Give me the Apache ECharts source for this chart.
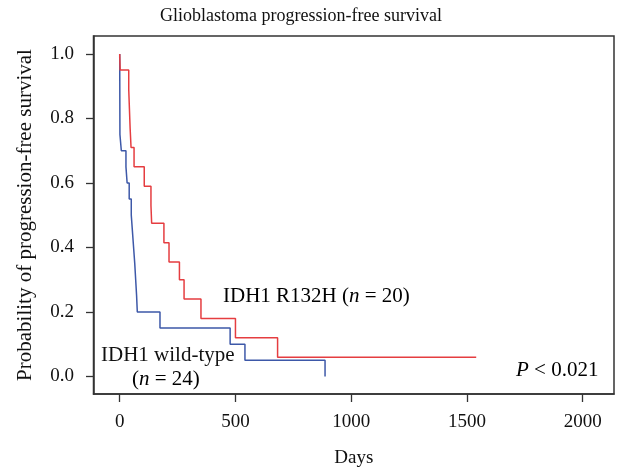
<!DOCTYPE html>
<html>
<head>
    <meta charset="utf-8">
    <title>Glioblastoma progression-free survival</title>
    <script src="https://cdn.jsdelivr.net/npm/echarts@6/dist/echarts.min.js"></script>
    <style>
        html, body { margin: 0; padding: 0; background: #fff; }
        #chart { width: 618px; height: 468px; }
    </style>
</head>
<body>
    <div id="chart"></div>
    <script>
        // 生存曲线数据 (days, survival probability)
        var mutantDays = [0, 2, 39, 42, 45, 49, 62, 106, 135, 138, 191, 213, 258, 278, 351, 500, 682, 1540];
        var mutantProb = [1.0, 0.95, 0.89, 0.83, 0.77, 0.71, 0.65, 0.59, 0.53, 0.475, 0.415, 0.355, 0.3, 0.24, 0.18, 0.12, 0.06, 0.06];
        var wildDays = [0, 1, 7, 27, 32, 41, 50, 55, 60, 65, 69, 73, 76, 174, 477, 541, 887];
        var wildProb = [1.0, 0.75, 0.70, 0.65, 0.60, 0.55, 0.50, 0.45, 0.40, 0.35, 0.30, 0.25, 0.20, 0.15, 0.10, 0.05, 0.0];
        var xTicks = [0, 500, 1000, 1500, 2000];
        var yTicks = [0, 0.2, 0.4, 0.6, 0.8, 1.0];

        var font = 'Liberation Serif';
        var zip = function (xs, ys) {
            return xs.map(function (x, i) { return [x, ys[i]]; });
        };
        var rich = {
            a: { fontFamily: font, fontSize: 21, color: '#111' },
            i: { fontFamily: font, fontSize: 21, fontStyle: 'italic', color: '#111' }
        };
        var frameLine = { color: '#333', width: 1.5 };

        var chart = echarts.init(document.getElementById('chart'));
        var option = {
            animation: false,
            title: {
                text: 'Glioblastoma progression-free survival',
                left: 296, top: 2, textAlign: 'center',
                textStyle: { fontFamily: font, fontSize: 18, fontWeight: 'normal', color: '#111' }
            },
            // 绘图区与 R 的 box 一致
            grid: {
                left: 93.5, right: 4, top: 36, bottom: 74,
                containLabel: false, outerBoundsMode: 'none',
                show: true, borderColor: '#333', borderWidth: 1.5, backgroundColor: 'transparent'
            },
            xAxis: {
                type: 'value',
                min: -113.2, max: 2135.2,
                name: 'Days', nameLocation: 'middle', nameGap: 55,
                nameTextStyle: { fontFamily: font, fontSize: 19, color: '#111' },
                axisLine: { show: true, onZero: false, lineStyle: frameLine },
                axisTick: { show: true, inside: false, length: 8, customValues: xTicks, lineStyle: { color: '#333', width: 1.3 } },
                axisLabel: {
                    margin: 19, customValues: xTicks, fontFamily: font, fontSize: 19, color: '#111',
                    formatter: function (v) { return String(v); }
                },
                splitLine: { show: false }
            },
            yAxis: {
                type: 'value',
                min: -0.0543, max: 1.0558,
                name: 'Probability of progression-free survival', nameLocation: 'middle', nameGap: 58,
                nameTextStyle: { fontFamily: font, fontSize: 21, color: '#111' },
                axisLine: { show: true, onZero: false, lineStyle: frameLine },
                axisTick: { show: true, inside: false, length: 7.5, customValues: yTicks, lineStyle: { color: '#333', width: 1.3 } },
                axisLabel: {
                    margin: 19.5, customValues: yTicks, fontFamily: font, fontSize: 19, color: '#111',
                    formatter: function (v) { return v.toFixed(1); }
                },
                splitLine: { show: false }
            },
            graphic: [
                {
                    type: 'text', left: 223, top: 286, z: 10,
                    style: { text: '{a|IDH1 R132H (}{i|n}{a| = 20)}', rich: rich }
                },
                {
                    type: 'text', left: 101, top: 345, z: 10,
                    style: { text: 'IDH1 wild-type', font: '21px "Liberation Serif"', fill: '#111' }
                },
                {
                    type: 'text', left: 132, top: 369, z: 10,
                    style: { text: '{a|(}{i|n}{a| = 24)}', rich: rich }
                },
                {
                    type: 'text', left: 516, top: 360, z: 10,
                    style: { text: '{i|P}{a| < 0.021}', rich: rich }
                }
            ],
            series: [
                {
                    name: 'IDH1 wild-type',
                    type: 'line', step: 'end', showSymbol: false,
                    lineStyle: { color: '#3d58a8', width: 1.5 },
                    data: zip(wildDays, wildProb)
                },
                {
                    name: 'IDH1 R132H',
                    type: 'line', step: 'end', showSymbol: false,
                    lineStyle: { color: '#e53d40', width: 1.5 },
                    data: zip(mutantDays, mutantProb)
                }
            ]
        };
        chart.setOption(option);
    </script>
</body>
</html>
